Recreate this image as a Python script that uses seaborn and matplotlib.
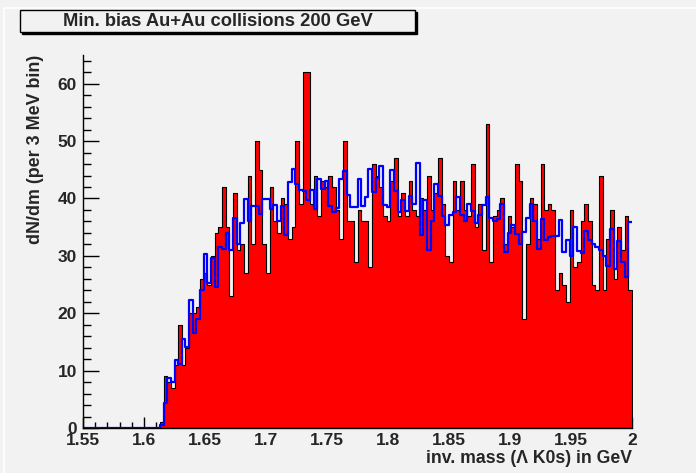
import numpy as np
import pandas as pd
import matplotlib
matplotlib.use("Agg")
import matplotlib.pyplot as plt
import seaborn as sns
from matplotlib.patches import Rectangle
from matplotlib.lines import Line2D
from matplotlib.ticker import MultipleLocator, FixedLocator, FixedFormatter

# 3 MeV bins from 1.55 to 2.00 GeV, 150 bins
bin_lo = 1.55
bin_width = 0.003
n_bins = 150
n_empty = 21  # bins below the Lambda+K0s threshold

# same-event (red) counts, bins 21..149
signal_counts = [
    1, 9, 8, 7, 11, 18, 11, 14, 20, 20,
    21, 26, 27, 25, 30, 34, 35, 42, 35, 23,
    41, 31, 32, 27, 44, 32, 50, 45, 32, 27,
    42, 36, 34, 40, 39, 33, 35, 50, 39, 62,
    62, 39, 44, 37, 43, 42, 44, 42, 38, 33,
    50, 36, 36, 29, 38, 36, 36, 28, 46, 44,
    42, 37, 36, 43, 47, 37, 41, 37, 43, 38,
    37, 40, 38, 44, 38, 41, 47, 39, 30, 29,
    43, 38, 43, 38, 37, 46, 35, 39, 31, 53,
    29, 37, 38, 40, 32, 37, 35, 46, 43, 19,
    32, 40, 39, 33, 46, 38, 39, 38, 24, 27,
    25, 22, 38, 28, 29, 36, 39, 36, 25, 24,
    44, 24, 33, 38, 26, 35, 31, 37, 24,
]

# mixed-event background (blue), bins 21..149
mixed_counts = [
    0.5, 4.4, 8.8, 8.1, 11.8, 11.1, 15.5, 14.1, 22.3, 16.6,
    19.0, 24.0, 30.3, 25.2, 29.7, 24.6, 31.6, 31.2, 33.9, 31.0,
    36.6, 32.1, 35.7, 39.9, 36.1, 38.7, 38.7, 37.3, 39.9, 39.9,
    38.2, 38.9, 36.1, 38.7, 33.7, 42.8, 45.1, 42.6, 41.5, 41.3,
    39.7, 41.4, 38.2, 43.4, 41.7, 43.1, 38.7, 37.6, 38.3, 43.4,
    44.7, 40.6, 38.5, 38.5, 43.4, 38.7, 40.2, 45.1, 41.1, 43.6,
    45.7, 38.9, 38.5, 44.9, 41.3, 37.6, 39.7, 37.8, 40.5, 39.0,
    46.1, 33.7, 39.8, 31.0, 36.1, 42.6, 40.5, 36.9, 35.3, 37.1,
    37.6, 40.2, 37.1, 36.1, 39.1, 37.8, 35.8, 37.1, 38.9, 40.3,
    36.6, 36.1, 36.5, 39.1, 30.6, 33.9, 35.3, 33.8, 32.1, 34.1,
    36.6, 39.1, 36.1, 31.2, 36.4, 32.7, 33.3, 33.5, 33.5, 36.2,
    30.6, 32.7, 29.9, 35.0, 30.8, 30.5, 34.4, 32.7, 32.1, 31.6,
    31.0, 30.0, 28.3, 34.7, 27.7, 32.6, 28.9, 26.3, 35.9,
]

xtick_values = [1.55, 1.6, 1.65, 1.7, 1.75, 1.8, 1.85, 1.9, 1.95, 2.0]
xtick_labels = ["1.55", "1.6", "1.65", "1.7", "1.75", "1.8", "1.85", "1.9", "1.95", "2"]
ytick_values = [0, 10, 20, 30, 40, 50, 60]

title_text = "Min. bias Au+Au collisions 200 GeV"
x_title = "inv. mass (\u039b K0s) in GeV"
y_title = "dN/dm (per 3 MeV bin)"

edges = (bin_lo + bin_width * np.arange(n_bins + 1)).tolist()
centers = [0.5 * (a + b) for a, b in zip(edges[:-1], edges[1:])]
df = pd.DataFrame({
    "mass": centers,
    "signal": np.concatenate([np.zeros(n_empty), signal_counts]),
    "mixed": np.concatenate([np.zeros(n_empty), mixed_counts]),
})

sns.set_style("ticks")
plt.rcParams["font.family"] = ["Liberation Sans", "DejaVu Sans"]
plt.rcParams["font.weight"] = "bold"

bg = "#f2f2f2"
W, H = 696, 473
fig = plt.figure(figsize=(W / 100, H / 100), dpi=100, facecolor=bg)
ax = fig.add_axes([83 / W, 1 - 428 / H, 549 / W, 373 / H], facecolor=bg)

sns.histplot(data=df, x="mass", weights="signal", bins=edges, element="step", fill=True,
             facecolor="#ff0000", edgecolor="black", linewidth=0.8, alpha=1, ax=ax)
sns.histplot(data=df, x="mass", weights="mixed", bins=edges, element="step", fill=False,
             color="#0000ff", linewidth=1.6, alpha=1, ax=ax)

ax.set_xlim(1.55, 2.0)
ax.set_ylim(0, 65)
for s in ["top", "right"]:
    ax.spines[s].set_visible(False)
for s in ["left", "bottom"]:
    ax.spines[s].set_color("black")
    ax.spines[s].set_linewidth(1)

ax.xaxis.set_major_locator(FixedLocator(xtick_values))
ax.xaxis.set_major_formatter(FixedFormatter(xtick_labels))
ax.xaxis.set_minor_locator(MultipleLocator(0.01))
ax.yaxis.set_major_locator(FixedLocator(ytick_values))
ax.yaxis.set_minor_locator(MultipleLocator(2))
ax.tick_params(axis="x", which="major", direction="in", length=8, width=1, pad=3.8,
               labelsize=12.5, color="black")
ax.tick_params(axis="x", which="minor", direction="in", length=4.3, width=1, color="black")
ax.tick_params(axis="y", which="major", direction="in", length=11.5, width=1, pad=4.3,
               labelsize=12.5, color="black")
ax.tick_params(axis="y", which="minor", direction="in", length=5.8, width=1, color="black")
for lab in ax.get_xticklabels() + ax.get_yticklabels():
    lab.set_fontweight("bold")

ax.set_xlabel(x_title, loc="right", fontsize=12.7, fontweight="bold")
ax.xaxis.set_label_coords(1.0, -0.058)
ax.set_ylabel(y_title, loc="top", fontsize=12.9, fontweight="bold")
ax.yaxis.set_label_coords(-0.071, 1.0)

# canvas bevel
fig.add_artist(Line2D([4 / W, 1], [1 - 8 / H, 1 - 8 / H], color="white", lw=1.2))
fig.add_artist(Line2D([4 / W, 4 / W], [0, 1 - 8 / H], color="white", lw=1.2))

# title box with shadow
bx0, by0, bx1, by1 = 20, 10, 415, 32
fig.add_artist(Rectangle(((bx0 + 2) / W, 1 - (by1 + 2) / H), (bx1 - bx0) / W, (by1 - by0) / H,
                         transform=fig.transFigure, facecolor="black", edgecolor="black", lw=1))
fig.add_artist(Rectangle((bx0 / W, 1 - by1 / H), (bx1 - bx0) / W, (by1 - by0) / H,
                         transform=fig.transFigure, facecolor=bg, edgecolor="black", lw=1))
fig.text((bx0 + bx1) / 2 / W, 1 - 21 / H, title_text, ha="center", va="center",
         fontsize=13.2, fontweight="bold")

fig.savefig("out.png", dpi=100, facecolor=bg)
